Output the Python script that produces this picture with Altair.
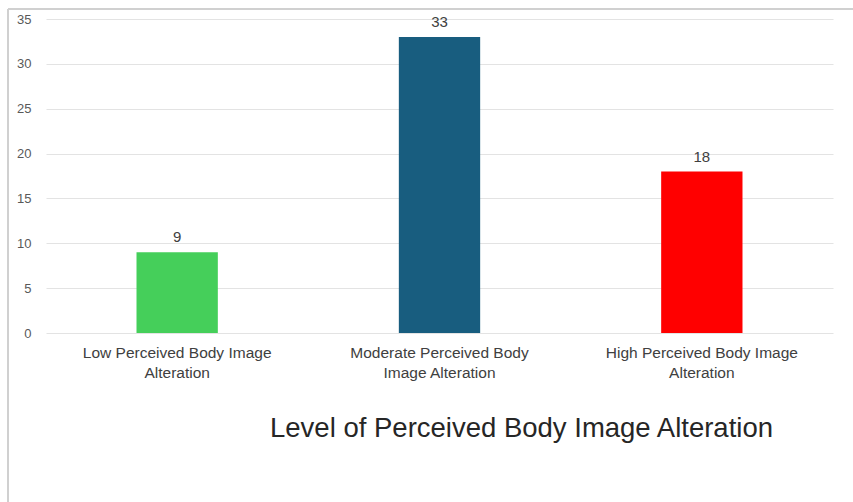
import altair as alt
import pandas as pd

categories = [
    "Low  Perceived Body Image\nAlteration",
    "Moderate Perceived  Body\nImage Alteration",
    "High Perceived Body Image\nAlteration",
]
counts = [9, 33, 18]
colors = ["#45cf5a", "#185d7f", "#ff0000"]
x_title = "Level of Perceived Body Image Alteration"
y_ticks = [0, 5, 10, 15, 20, 25, 30, 35]

df = pd.DataFrame({"category": categories, "count": counts})

FONT = "Liberation Sans"

x_enc = alt.X(
    "category:N",
    sort=categories,
    scale=alt.Scale(paddingInner=0.69, paddingOuter=0.345),
    axis=alt.Axis(
        title=x_title,
        labelExpr="split(datum.label, '\\n')",
        labelAngle=0,
        labelFont=FONT,
        labelFontSize=15.5,
        labelColor="#404040",
        labelLineHeight=20,
        labelPadding=12,
        labelLimit=300,
        ticks=False,
        domain=False,
        titleFont=FONT,
        titleFontSize=27.5,
        titleFontWeight="normal",
        titleColor="#262626",
        titleX=475,
        titleY=95,
        titleAlign="center",
        titleBaseline="middle",
    ),
)

y_enc = alt.Y(
    "count:Q",
    scale=alt.Scale(domain=[0, 35], nice=False),
    axis=alt.Axis(
        title=None,
        values=y_ticks,
        labelFont=FONT,
        labelFontSize=13,
        labelColor="#595959",
        labelPadding=15,
        ticks=False,
        domain=False,
        grid=True,
        gridColor="#e3e3e3",
        gridWidth=1,
    ),
)

bars = alt.Chart(df).mark_bar().encode(
    x=x_enc,
    y=y_enc,
    color=alt.Color("category:N", sort=categories,
                    scale=alt.Scale(domain=categories, range=colors), legend=None),
)

labels = alt.Chart(df).mark_text(
    baseline="bottom", dy=-7, font=FONT, fontSize=15, color="#404040"
).encode(
    x=alt.X("category:N", sort=categories),
    y=alt.Y("count:Q"),
    text="count:Q",
)

frame_left = alt.Chart(df).mark_rule(color="#d0d0d0", strokeWidth=2, clip=False).encode(
    x=alt.value(-38), y=alt.value(-10), y2=alt.value(500)
)
frame_top = alt.Chart(df).mark_rule(color="#d0d0d0", strokeWidth=2, clip=False).encode(
    x=alt.value(-38), x2=alt.value(820), y=alt.value(-10)
)

chart = alt.layer(frame_left, frame_top, bars, labels).properties(
    width=787,
    height=314,
    autosize=alt.AutoSizeParams(type="none"),
    padding={"left": 46, "top": 19, "right": 20, "bottom": 169},
    background="white",
).configure_view(stroke=None)

chart.save("out.html", embed_options={"renderer": "svg", "actions": False})
